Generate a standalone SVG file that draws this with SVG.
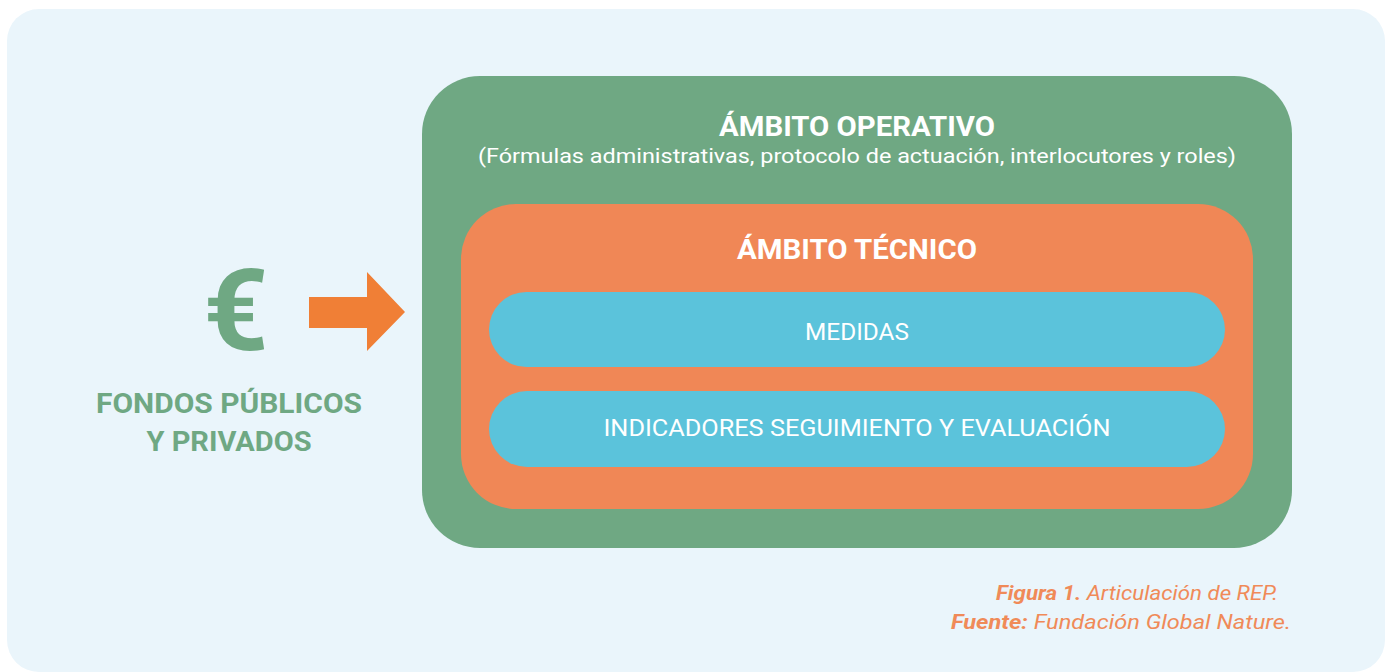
<svg xmlns="http://www.w3.org/2000/svg" width="1389" height="672" viewBox="0 0 1389 672">
<style>
text{font-family:Roboto,"Noto Sans","Liberation Sans",sans-serif;}
.w{fill:#ffffff;text-anchor:middle;}
.b{font-weight:700;}
.g{fill:#6fa883;}
.c{fill:#f08a58;font-style:italic;font-size:21px;text-anchor:end;}
</style>
<rect x="7" y="9" width="1378" height="663" rx="32" fill="#eaf5fb"/>
<g id="operativo">
<rect x="422" y="76" width="870" height="472" rx="58" fill="#6fa883"/>
<text class="w b" x="857" y="136" font-size="28" textLength="276" lengthAdjust="spacingAndGlyphs">ÁMBITO OPERATIVO</text>
<text class="w" x="857" y="163" font-size="20" textLength="758" lengthAdjust="spacingAndGlyphs">(Fórmulas administrativas, protocolo de actuación, interlocutores y roles)</text>
</g>
<g id="tecnico">
<rect x="461" y="204" width="792" height="305" rx="55" fill="#f08756"/>
<text class="w b" x="857" y="259" font-size="28" textLength="240" lengthAdjust="spacingAndGlyphs">ÁMBITO TÉCNICO</text>
</g>
<g id="medidas">
<rect x="489" y="292" width="736" height="75" rx="37.5" fill="#5bc3db"/>
<text class="w" x="857" y="340" font-size="23" textLength="104" lengthAdjust="spacingAndGlyphs">MEDIDAS</text>
</g>
<g id="indicadores">
<rect x="489" y="391" width="736" height="76" rx="38" fill="#5bc3db"/>
<text class="w" x="857" y="436" font-size="23" textLength="507" lengthAdjust="spacingAndGlyphs">INDICADORES SEGUIMIENTO Y EVALUACIÓN</text>
</g>
<g id="fondos">
<text class="g b" x="236" y="350" font-size="114" text-anchor="middle">€</text>
<text class="g b" x="229" y="413" font-size="28" text-anchor="middle" textLength="266" lengthAdjust="spacingAndGlyphs">FONDOS PÚBLICOS</text>
<text class="g b" x="229" y="451" font-size="28" text-anchor="middle" textLength="165" lengthAdjust="spacingAndGlyphs">Y PRIVADOS</text>
</g>
<g id="connectors">
<polygon points="309,297 367,297 367,272 405,312 367,351 367,328 309,328" fill="#f07f36"/>
</g>
<g id="caption">
<text class="c" x="1278" y="600" textLength="282" lengthAdjust="spacingAndGlyphs"><tspan font-weight="700">Figura 1.</tspan> Articulación de REP.</text>
<text class="c" x="1291" y="629" textLength="340" lengthAdjust="spacingAndGlyphs"><tspan font-weight="700">Fuente:</tspan> Fundación Global Nature.</text>
</g>
</svg>
